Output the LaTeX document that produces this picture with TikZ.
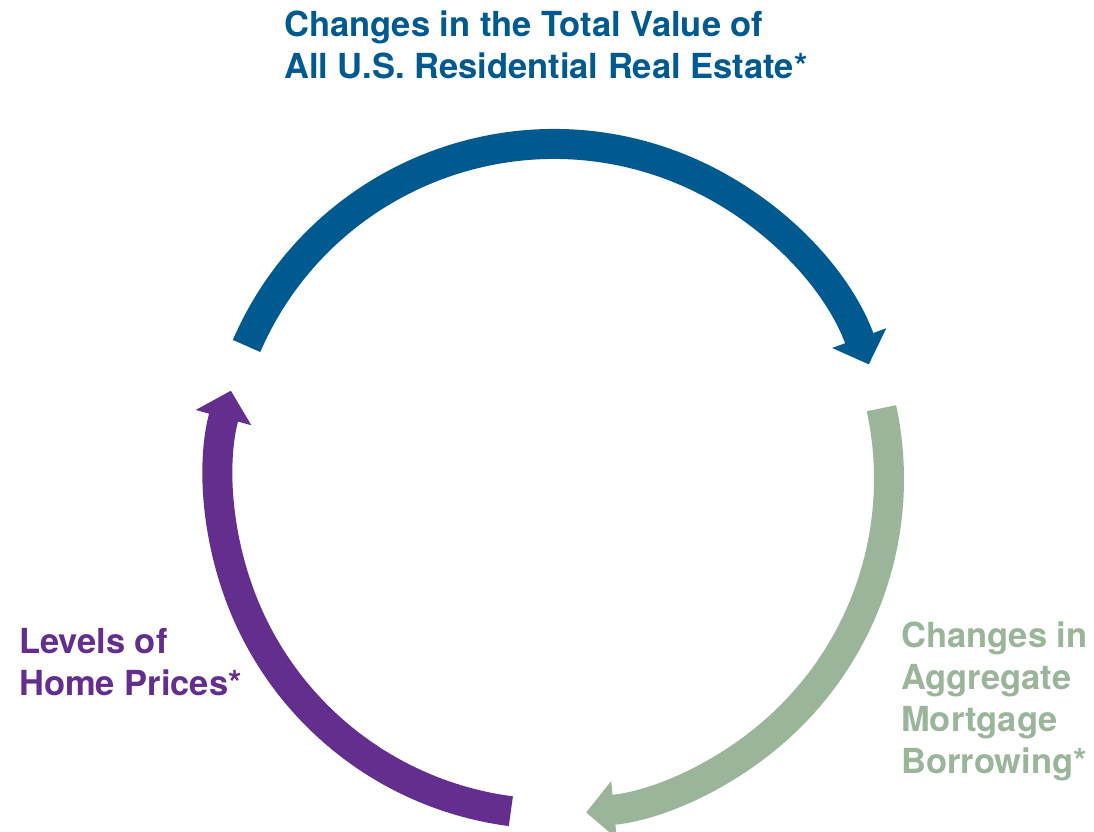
\documentclass[tikz,border=0pt]{standalone}
\usepackage{fontspec}
\setmainfont{TeX Gyre Heros}
\usetikzlibrary{arrows.meta}
\definecolor{valueblue}{RGB}{0,90,143}
\definecolor{mortgreen}{RGB}{155,181,154}
\definecolor{pricepurple}{RGB}{99,46,142}
\begin{document}
\begin{tikzpicture}[x=1pt,y=1pt,
  cyc/.style={line width=30pt,-{Triangle[length=28pt,width=56pt]}},
  lbl/.style={anchor=north west,inner sep=0pt,align=left,font=\fontsize{34.5}{42}\selectfont\bfseries}]
  \useasboundingbox (-554,-352) rectangle (540,479);
  % three arcs of the cycle, radius 335
  \draw[cyc,valueblue] (156.6:335) arc[start angle=156.6,end angle=20,radius=335];
  \draw[cyc,mortgreen] (12.2:335) arc[start angle=12.2,end angle=-84.5,radius=335];
  \draw[cyc,pricepurple] (262.6:335) arc[start angle=262.6,end angle=164.7,radius=335];
  % labels
  \node[lbl,text=valueblue] (total) at (-270,468) {Changes in the Total Value of\\All U.S. Residential Real Estate*};
  \node[lbl,text=mortgreen] (borrowing) at (347,-143) {Changes in\\Aggregate\\Mortgage\\Borrowing*};
  \node[lbl,text=pricepurple] (prices) at (-535,-149.5) {Levels of\\Home Prices*};
\end{tikzpicture}
\end{document}
